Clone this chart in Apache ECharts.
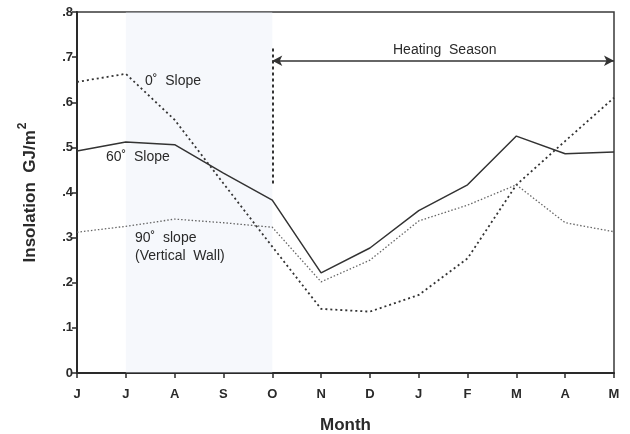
<!DOCTYPE html>
<html><head><meta charset="utf-8">
<script src="https://cdn.jsdelivr.net/npm/echarts@6/dist/echarts.min.js"></script>
<style>html,body{margin:0;padding:0;background:#fff}#c{width:630px;height:434px}</style>
</head><body><div id="c"></div>
<script>
const months = ['J','J','A','S','O','N','D','J','F','M','A','M'];
const slope0 = [0.645, 0.663, 0.561, 0.42, 0.28, 0.142, 0.136, 0.173, 0.254, 0.417, 0.514, 0.61];
const slope60 = [0.492, 0.512, 0.506, 0.443, 0.383, 0.222, 0.277, 0.36, 0.417, 0.525, 0.486, 0.49];
const slope90 = [0.312, 0.325, 0.341, 0.333, 0.323, 0.202, 0.25, 0.337, 0.372, 0.417, 0.333, 0.313];
const yTicks = ['0','.1','.2','.3','.4','.5','.6','.7','.8'];

const FONT = "'Liberation Sans',Arial,sans-serif";
const ink = '#2a2a2a';
const chart = echarts.init(document.getElementById('c'), null, {renderer:'canvas'});
chart.setOption({
  animation:false,
  backgroundColor:'#fff',
  grid:{left:77,right:16,top:12,bottom:61,containLabel:false,outerBoundsMode:'none',show:true,borderColor:'#3a3a3a',borderWidth:1.5,backgroundColor:'transparent'},
  xAxis:{type:'category',data:months,boundaryGap:false,
    axisLine:{lineStyle:{color:ink,width:2}},
    axisTick:{show:true,length:5,alignWithLabel:true,lineStyle:{color:ink,width:1.5}},
    axisLabel:{color:ink,fontFamily:FONT,fontSize:13,fontWeight:'bold',margin:15},
    splitLine:{show:false},
    name:'Month',nameLocation:'middle',nameGap:44,
    nameTextStyle:{color:ink,fontFamily:FONT,fontSize:17,fontWeight:'bold'}
  },
  yAxis:{type:'value',min:0,max:0.8,interval:0.1,
    axisLine:{show:true,lineStyle:{color:ink,width:2}},
    axisTick:{show:true,length:5,lineStyle:{color:ink,width:1.5}},
    axisLabel:{color:ink,fontFamily:FONT,fontSize:13,fontWeight:'bold',margin:4,
      formatter:(v)=>yTicks[Math.round(v*10)]},
    splitLine:{show:false},
    name:'{a|Insolation  GJ/m}{s|2}',nameLocation:'middle',nameGap:38,nameRotate:90,
    nameTextStyle:{rich:{
      a:{color:ink,fontFamily:FONT,fontSize:17,fontWeight:'bold',verticalAlign:'bottom'},
      s:{color:ink,fontFamily:FONT,fontSize:12,fontWeight:'bold',verticalAlign:'top',padding:[0,0,10,1]}
    }}
  },
  series:[
    {name:'60',type:'line',z:3,data:slope60,symbol:'none',lineStyle:{color:'#333',width:1.5,type:'solid'},
     markArea:{silent:true,z:1,itemStyle:{color:'rgba(228,234,246,0.35)'},data:[[{xAxis:1},{xAxis:4}]]},
     markLine:{silent:true,symbol:['none','none'],label:{show:false},
       lineStyle:{color:'#333',width:2,type:[3,3]},
       data:[[{coord:[4,0.42]},{coord:[4,0.72]}]]}
    },
    {name:'0',type:'line',z:3,data:slope0,symbol:'none',lineStyle:{color:'#333',width:1.8,type:[2,3]},
     markLine:{silent:true,symbol:['arrow','arrow'],symbolSize:[8,10],label:{show:false},
       lineStyle:{color:'#333',width:1.5,type:'solid'},
       data:[[{coord:[4,0.692]},{coord:[11,0.692]}]]}
    },
    {name:'90',type:'line',z:3,data:slope90,symbol:'none',lineStyle:{color:'#666',width:1.3,type:[1.5,2]}}
  ],
  graphic:[
    {type:'text',z:100,left:393,top:43,style:{text:'Heating  Season',fill:ink,font:"14px "+FONT}},
    {type:'text',z:100,left:145,top:74,style:{text:'0˚  Slope',fill:ink,font:"14px "+FONT}},
    {type:'text',z:100,left:106,top:150,style:{text:'60˚  Slope',fill:ink,font:"14px "+FONT}},
    {type:'text',z:100,left:135,top:231,style:{text:'90˚  slope',fill:ink,font:"14px "+FONT}},
    {type:'text',z:100,left:135,top:249,style:{text:'(Vertical  Wall)',fill:ink,font:"14px "+FONT}}
  ]
});
</script></body></html>
